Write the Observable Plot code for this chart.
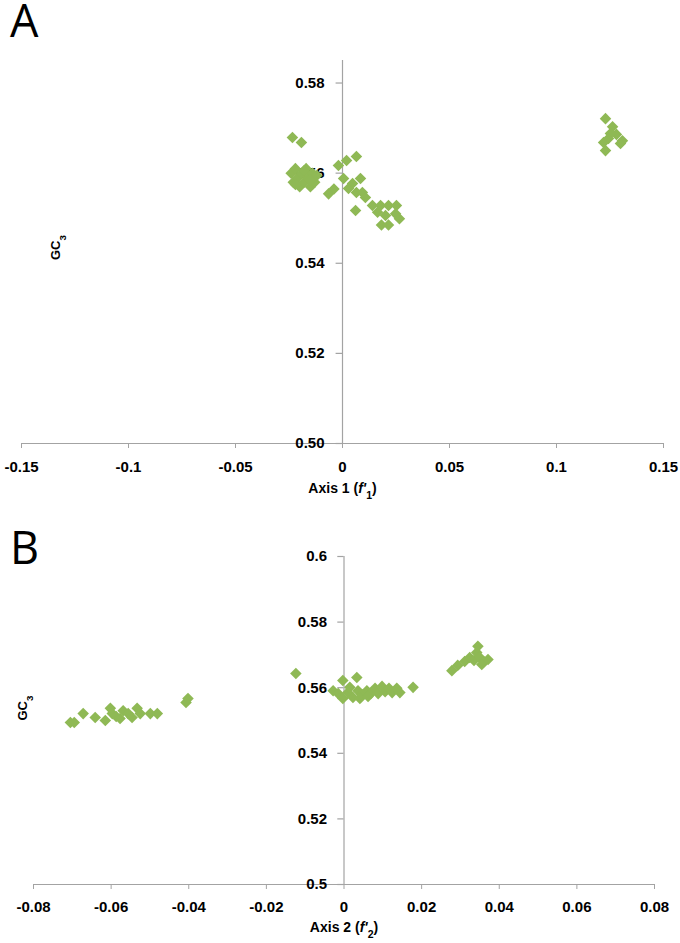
<!DOCTYPE html>
<html><head><meta charset="utf-8">
<script src="https://cdn.jsdelivr.net/npm/d3@7"></script>
<script src="https://cdn.jsdelivr.net/npm/@observablehq/plot@0.6"></script>
<style>
body{margin:0;background:#fff;}
#wrap{position:relative;width:680px;height:943px;overflow:hidden;}
.panel{position:absolute;left:0;}
.letter{position:absolute;font-family:"Open Sans",sans-serif;font-size:45px;line-height:36px;height:36px;color:#000;}
svg{display:block;}
</style></head><body>
<div id="wrap">
<div id="pa" class="panel" style="top:0"></div>
<div id="pb" class="panel" style="top:510px"></div>
<div class="letter" style="left:10px;top:2px">A</div>
<div class="letter" style="left:10px;top:529px">B</div>
</div>
<script>
// ---------- Panel A data (Axis 1 f'1 vs GC3) ----------
const aX = [-0.0234,-0.0192,
  -0.024,-0.023,-0.022,-0.021,-0.020,-0.019,-0.018,-0.017,-0.016,-0.015,-0.014,-0.013,-0.022,-0.018,-0.015,-0.012,
  -0.0065,-0.004,
  -0.0019,0.0019,0.0065,0.0005,0.0047,0.0084,0.0028,0.0065,0.0093,0.0107,0.0061,0.014,0.0178,0.0215,0.0252,0.0201,0.0248,0.0266,0.0182,0.0215,0.0164,
  0.1229,0.1262,0.128,0.1308,0.122,0.1229,0.1299,0.1252,0.1243];
const aY = [0.5679,0.5668,
  0.560,0.558,0.561,0.559,0.557,0.560,0.558,0.561,0.559,0.557,0.560,0.558,0.5575,0.5605,0.5585,0.5595,
  0.5554,0.5565,
  0.5617,0.5628,0.5637,0.5588,0.5577,0.5588,0.5566,0.5557,0.5557,0.5546,0.5517,0.5528,0.5528,0.5528,0.5528,0.5506,0.551,0.5499,0.5485,0.5485,0.5513,
  0.5721,0.5703,0.5686,0.5672,0.5668,0.565,0.5666,0.5688,0.5677];
const aXTicks = [-0.15,-0.1,-0.05,0,0.05,0.1,0.15];
const aXTickLabels = ["-0.15","-0.1","-0.05","0","0.05","0.1","0.15"];
const aYTicks = [0.50,0.52,0.54,0.56,0.58];
const aYTickLabels = ["0.50","0.52","0.54","0.56","0.58"];

// ---------- Panel B data (Axis 2 f'2 vs GC3) ----------
const bX = [-0.0705,-0.0695,-0.0672,-0.0641,-0.0615,-0.0602,-0.0597,-0.0587,-0.0577,-0.0569,-0.0556,-0.0546,-0.0533,-0.0525,-0.0499,-0.0481,-0.0407,-0.0402,
  -0.0124,-0.0003,0.0033,-0.0028,-0.0015,-0.0003,0.001,0.0015,0.0023,0.0036,0.0046,0.0059,0.0069,0.008,0.0088,0.0098,0.0106,0.0116,0.0124,0.0136,0.0144,0.0178,0.0041,0.0062,
  0.0278,0.0293,0.0311,0.0324,0.0335,0.0342,0.0345,0.035,0.036,0.0371,0.0355];
const bY = [0.5494,0.5494,0.5521,0.5509,0.55,0.5537,0.5521,0.5512,0.5506,0.553,0.5521,0.5509,0.5537,0.5521,0.5521,0.5521,0.5555,0.5567,
  0.5643,0.5622,0.5631,0.5591,0.5582,0.5567,0.5585,0.5601,0.557,0.5591,0.5579,0.5591,0.5582,0.5598,0.5582,0.5604,0.5588,0.5598,0.5585,0.5598,0.5585,0.5601,0.5567,0.5573,
  0.5652,0.5668,0.568,0.5692,0.5683,0.5707,0.5726,0.5692,0.568,0.5686,0.5671];
const bXTicks = [-0.08,-0.06,-0.04,-0.02,0,0.02,0.04,0.06,0.08];
const bXTickLabels = ["-0.08","-0.06","-0.04","-0.02","0","0.02","0.04","0.06","0.08"];
const bYTicks = [0.5,0.52,0.54,0.56,0.58,0.6];
const bYTickLabels = ["0.5","0.52","0.54","0.56","0.58","0.6"];

const yLabel = "GC3";
const aXLabel = "Axis 1 (f'1)";
const bXLabel = "Axis 2 (f'2)";

const green = "#8fb955";
const axisColor = "#a3a3a3";
const font = "'Liberation Sans', Arial, sans-serif";

function panel({xs, ys, xTicks, xTickLabels, yTicks, yTickLabels, xDomain, yDomain, height, margins, tickLen, tickPad, titleDy, yLabDx, yLabDy, yLabelDx, xLabel}) {
  const data = xs.map((x, i) => ({x, y: ys[i]}));
  const xMap = new Map(xTicks.map((t, i) => [t, xTickLabels[i]]));
  const yl = yTicks.map((t, i) => ({t, s: yTickLabels[i]}));
  return Plot.plot({
    width: 680, height,
    marginLeft: margins[0], marginRight: margins[1], marginTop: margins[2], marginBottom: margins[3],
    x: {domain: xDomain, axis: null},
    y: {domain: yDomain, axis: null},
    style: {fontFamily: font, background: "white", overflow: "visible"},
    marks: [
      Plot.ruleY([yDomain[0]], {stroke: axisColor, strokeWidth: 1.2}),
      Plot.ruleX([0], {y1: yDomain[0], y2: yDomain[1], stroke: axisColor, strokeWidth: 1.2}),
      Plot.axisX(xTicks, {anchor: "bottom", tickSize: 5, tickPadding: tickPad, stroke: axisColor, fill: "#000",
        tickFormat: d => xMap.get(d), fontSize: 15, fontWeight: "bold", label: null}),
      Plot.ruleY(yl, {y: "t", x1: 0, x2: -tickLen, stroke: axisColor, strokeWidth: 1.2}),
      Plot.text(yl, {y: "t", x: 0, text: "s", dx: yLabelDx, textAnchor: "end", fontSize: 15, fontWeight: "bold", fill: "#000"}),
      Plot.text([xLabel], {frameAnchor: "bottom", dy: titleDy, fontSize: 14, fontWeight: "bold", fill: "#000"}),
      Plot.text([yLabel], {frameAnchor: "left", dx: yLabDx, dy: yLabDy, rotate: -90, fontSize: 13, fontWeight: "bold", fill: "#000"}),
      Plot.dot(data, {x: "x", y: "y", symbol: "diamond2", r: 5.2, fill: green, stroke: "none"})
    ]
  });
}

function richify(svg) {
  d3.select(svg).selectAll("text").each(function() {
    const t = this.textContent;
    const s = d3.select(this);
    if (t === yLabel) {
      s.text(null);
      s.append("tspan").text("GC");
      s.append("tspan").attr("baseline-shift", "sub").attr("font-size", "75%").text("3");
    } else if (t === aXLabel || t === bXLabel) {
      const n = t === aXLabel ? "1" : "2";
      const head = t === aXLabel ? "Axis 1 (" : "Axis 2 (";
      s.text(null);
      s.append("tspan").text(head);
      s.append("tspan").attr("font-style", "italic").text("f'");
      s.append("tspan").attr("baseline-shift", "sub").attr("font-size", "75%").text(n);
      s.append("tspan").text(")");
    }
  });
  return svg;
}

const svgA = panel({xs: aX, ys: aY, xTicks: aXTicks, xTickLabels: aXTickLabels, yTicks: aYTicks, yTickLabels: aYTickLabels,
  xDomain: [-0.15, 0.15], yDomain: [0.5, 0.585], height: 510, margins: [21, 17, 60, 67],
  tickLen: 0.003, tickPad: 13, titleDy: 49, yLabDx: 34, yLabDy: 8, yLabelDx: -18, xLabel: aXLabel});
const svgB = panel({xs: bX, ys: bY, xTicks: bXTicks, xTickLabels: bXTickLabels, yTicks: bYTicks, yTickLabels: bYTickLabels,
  xDomain: [-0.08, 0.08], yDomain: [0.5, 0.6], height: 433, margins: [33, 26, 46, 59],
  tickLen: 0.0016, tickPad: 12, titleDy: 47, yLabDx: -11, yLabDy: 0, yLabelDx: -17, xLabel: bXLabel});

document.getElementById("pa").appendChild(richify(svgA));
document.getElementById("pb").appendChild(richify(svgB));
</script>
</body></html>
